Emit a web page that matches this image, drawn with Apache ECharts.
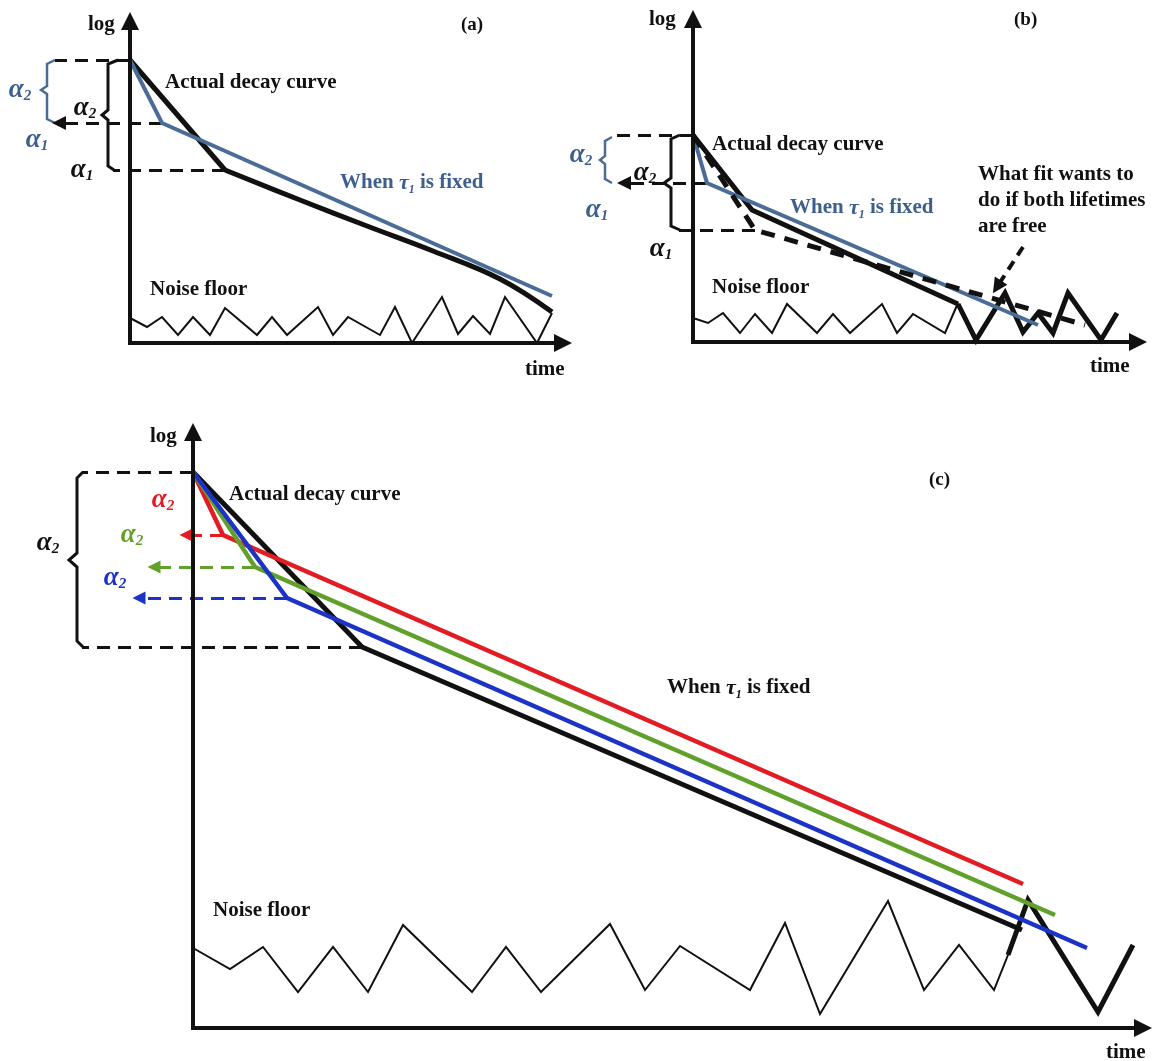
<!DOCTYPE html>
<html><head><meta charset="utf-8">
<script src="https://cdn.jsdelivr.net/npm/echarts@6/dist/echarts.min.js"></script>
<style>html,body{margin:0;padding:0;background:#fff}#c{width:1156px;height:1061px}</style>
</head><body><div id="c"></div>
<script>
// ---------- Panel (a) : time vs log intensity (arbitrary units, origin at axes corner)
const aActualFast = [[0,283],[95,173]];
const aActualSlow = [[95,173],[170,143],[237,117],[303,92],[370,64],[422,31]];
const aFixed  = [[0,283],[32,220],[422,47]];
const aNoise  = [[0,25],[17,16],[32,26],[48,8],[63,26],[80,8],[95,35],[127,8],[142,26],[157,8],[188,36],[203,8],[218,26],[250,8],[265,36],[282,0],[312,46],[328,9],[343,27],[360,9],[375,46],[407,0],[422,30]];
const aLevels = {top:283, a2:220, a1:173};
const aBraceBlack = [[-12,283],[-22,279],[-22,233],[-28,228],[-22,223],[-22,177],[-16,173]];
const aBraceBlue  = [[-75,283],[-83,279],[-83,257],[-89,253],[-83,249],[-83,224],[-75,220]];

// ---------- Panel (b)
const bActual = [[0,207],[59,132],[265,38]];
const bNoiseThin  = [[0,24],[15,19],[30,29],[47,9],[62,28],[79,9],[94,38],[124,9],[140,28],[157,9],[189,38],[204,9],[220,28],[252,9],[265,39]];
const bNoiseThick = [[265,38],[283,2],[312,49],[330,10],[345,29],[360,9],[375,49],[408,2],[424,29]];
const bFixed = [[0,207],[14,159],[345,17]];
const bFree  = [[0,207],[62,112],[392,17]];
const bLevels = {top:207, a2:159, a1:112};
const bBraceBlack = [[-13,207],[-22,203],[-22,164],[-29,159],[-22,154],[-22,116],[-13,112]];
const bBraceBlue  = [[-81,205],[-88,201],[-88,186],[-93,182],[-88,178],[-88,163],[-81,159]];
const bPointer = [[330,95],[300,49]];

// ---------- Panel (c)
const cActual = [[0,556],[169,381],[829,98]];
const cRed   = [[0,556],[30,493],[830,144]];
const cGreen = [[0,556],[62,461],[862,113]];
const cBlue  = [[0,556],[94,430],[894,80]];
const cNoiseThin  = [[0,80],[37,59],[70,81],[105,36],[140,81],[175,36],[210,103],[279,36],[313,81],[348,36],[417,104],[452,38],[487,82],[557,38],[592,105],[627,14],[695,127],[731,38],[766,83],[801,38],[815,73]];
const cNoiseThick = [[815,73],[835,128],[905,16],[940,83]];
const cLevels = {top:556, red:493, green:461, blue:430, a1:381};
const cBrace = [[-110,556],[-116,550],[-116,475],[-124,468],[-116,461],[-116,387],[-110,381]];

const FONT = '"Liberation Serif","DejaVu Serif",serif';
const BLACK = '#111';
const STEEL = '#4a6c96';
const STEEL_T = '#3d5f8e';
const RED = '#e31b23', GREEN = '#62a02c', BLUE = '#1b33c6';
const DASH = [13, 8];

const chart = echarts.init(document.getElementById('c'), null, {renderer:'canvas'});

const grids = [
  {left:0, top:0, width:580, height:380},
  {left:560, top:0, width:596, height:380},
  {left:0, top:400, width:1156, height:661}
];
const xAxes = [
  {gridIndex:0, type:'value', min:-130, max:450, show:false},
  {gridIndex:1, type:'value', min:-133, max:463, show:false},
  {gridIndex:2, type:'value', min:-193, max:963, show:false}
];
const yAxes = [
  {gridIndex:0, type:'value', min:-37, max:343, show:false},
  {gridIndex:1, type:'value', min:-38, max:342, show:false},
  {gridIndex:2, type:'value', min:-33, max:628, show:false}
];

function line(p, data, color, width, dash, z, smooth) {
  return {type:'line', xAxisIndex:p, yAxisIndex:p, data:data, showSymbol:false, symbol:'none',
    clip:false, silent:true, animation:false, z:z||2, smooth:smooth||false,
    lineStyle:{color:color, width:width, type:dash||'solid', cap:'butt', join:'miter'}};
}
function segs(p, list, color, width, dash, endSym, symSize, z) {
  return {type:'lines', coordinateSystem:'cartesian2d', xAxisIndex:p, yAxisIndex:p, silent:true, animation:false,
    z:z||3, symbol:['none', endSym||'none'], symbolSize:symSize||10,
    lineStyle:{color:color, width:width, type:dash||'solid', opacity:1, curveness:0},
    data:list.map(c=>({coords:c}))};
}
function axes(p, ytip, xtip) {
  return segs(p, [[[0,-2],[0,ytip-9]], [[-2,0],[xtip-9,0]]], BLACK, 4, 'solid', 'triangle', [15,18], 5);
}

const series = [
  // panel a
  line(0, aNoise, BLACK, 2),
  line(0, aActualFast, BLACK, 5, null, 3),
  line(0, aActualSlow, BLACK, 5, null, 3, 0.4),
  line(0, aFixed, STEEL, 4, null, 4),
  segs(0, [[[0,aLevels.top],[-75,aLevels.top]], [[95,aLevels.a1],[-17,aLevels.a1]]], BLACK, 3, DASH),
  segs(0, [[[32,aLevels.a2],[-71,aLevels.a2]]], BLACK, 3, DASH, 'triangle', [12,14]),
  line(0, aBraceBlack, BLACK, 3),
  line(0, aBraceBlue, STEEL, 2.5),
  axes(0, 331, 442),
  // panel b
  line(1, bNoiseThin, BLACK, 2),
  line(1, bNoiseThick, BLACK, 5, null, 3),
  line(1, bActual, BLACK, 5, null, 3),
  line(1, bFixed, STEEL, 4, null, 4),
  line(1, bFree, BLACK, 5, [14,10], 5),
  segs(1, [[[0,bLevels.top],[-81,bLevels.top]], [[62,bLevels.a1],[-21,bLevels.a1]]], BLACK, 3, DASH),
  segs(1, [[[14,bLevels.a2],[-69,bLevels.a2]]], BLACK, 3, DASH, 'triangle', [12,14]),
  segs(1, [[bPointer[0],[bPointer[1][0]+4,bPointer[1][1]+6]]], BLACK, 4, [10,7], 'triangle', [13,15]),
  line(1, bBraceBlack, BLACK, 3),
  line(1, bBraceBlue, STEEL, 2.5),
  axes(1, 332, 454),
  // panel c
  line(2, cNoiseThin, BLACK, 2),
  line(2, cNoiseThick, BLACK, 5, null, 3),
  line(2, cActual, BLACK, 5, null, 3),
  line(2, cRed, RED, 4.5, null, 4),
  line(2, cGreen, GREEN, 4.5, null, 4),
  line(2, cBlue, BLUE, 4.5, null, 4),
  segs(2, [[[0,cLevels.top],[-111,cLevels.top]], [[169,cLevels.a1],[-111,cLevels.a1]]], BLACK, 3, DASH),
  segs(2, [[[30,cLevels.red],[-7,cLevels.red]]], RED, 3, DASH, 'triangle', [11,13]),
  segs(2, [[[62,cLevels.green],[-39,cLevels.green]]], GREEN, 3, DASH, 'triangle', [11,13]),
  segs(2, [[[94,cLevels.blue],[-54,cLevels.blue]]], BLUE, 3, DASH, 'triangle', [11,13]),
  line(2, cBrace, BLACK, 3),
  axes(2, 605, 959)
];

function txt(x, y, text, opt) {
  opt = opt || {};
  return {type:'text', x:x, y:y, silent:true, z:100,
    style:Object.assign({text:text, fontFamily:FONT, fontSize:21, fontWeight:'bold', fill:BLACK,
      align:'left', verticalAlign:'middle'}, opt)};
}
function alpha(x, y, sub, color) {
  return txt(x, y, '{a|α}{s|' + sub + '}', {align:'center', fill:color,
    rich:{a:{fontFamily:FONT, fontSize:27, fontWeight:'bold', fontStyle:'italic', fill:color, lineHeight:28},
          s:{fontFamily:FONT, fontSize:15, fontWeight:'bold', fontStyle:'italic', fill:color, verticalAlign:'bottom', lineHeight:16}}});
}
function tau(x, y, color) {
  return txt(x, y, 'When {t|τ}{s|1} is fixed', {fill:color,
    rich:{t:{fontFamily:FONT, fontSize:22, fontWeight:'bold', fontStyle:'italic', fill:color, lineHeight:25},
          s:{fontFamily:FONT, fontSize:12, fontWeight:'bold', fontStyle:'italic', fill:color, verticalAlign:'bottom', lineHeight:13}}});
}

const graphics = [
  // a
  txt(88, 25, 'log'),
  txt(461, 25, '(a)', {fontSize:19}),
  txt(165, 83, 'Actual decay curve'),
  tau(340, 183, STEEL_T),
  txt(150, 290, 'Noise floor'),
  txt(525, 370, 'time'),
  alpha(20, 90, '2', STEEL_T), alpha(37, 140, '1', STEEL_T),
  alpha(85, 108, '2', BLACK), alpha(82, 170, '1', BLACK),
  // b
  txt(649, 20, 'log'),
  txt(1014, 20, '(b)', {fontSize:19}),
  txt(712, 145, 'Actual decay curve'),
  tau(790, 208, STEEL_T),
  txt(978, 201, 'What fit wants to\ndo if both lifetimes\nare free', {lineHeight:26}),
  txt(712, 288, 'Noise floor'),
  txt(1090, 367, 'time'),
  alpha(581, 155, '2', STEEL_T), alpha(597, 210, '1', STEEL_T),
  alpha(645, 173, '2', BLACK), alpha(661, 249, '1', BLACK),
  // c
  txt(150, 437, 'log'),
  txt(929, 480, '(c)', {fontSize:19}),
  txt(229, 495, 'Actual decay curve'),
  tau(667, 688, BLACK),
  txt(213, 911, 'Noise floor'),
  txt(1106, 1053, 'time'),
  alpha(48, 543, '2', BLACK),
  alpha(163, 500, '2', RED), alpha(132, 535, '2', GREEN), alpha(115, 578, '2', BLUE)
];

chart.setOption({
  animation:false,
  backgroundColor:'#ffffff',
  grid:grids, xAxis:xAxes, yAxis:yAxes,
  series:series,
  graphic:{elements:graphics}
});
</script>
</body></html>
